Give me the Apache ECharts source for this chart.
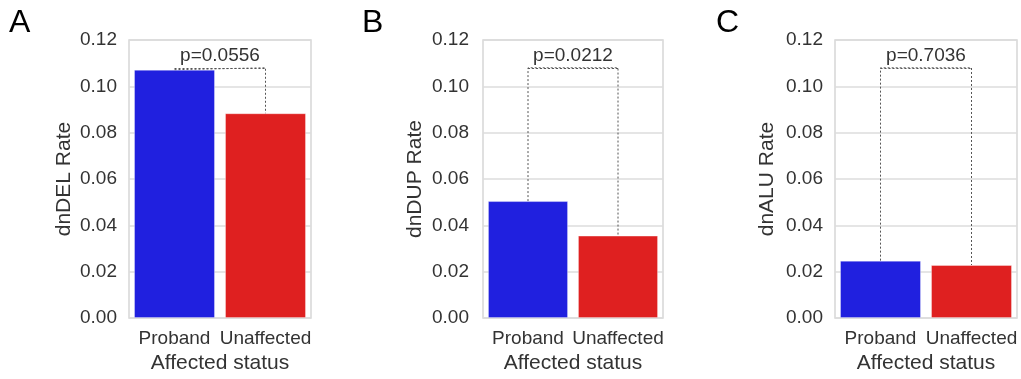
<!DOCTYPE html>
<html lang="en">
<head>
    <meta charset="UTF-8">
    <title>de novo rates</title>
    <script src="https://cdn.jsdelivr.net/npm/echarts@6/dist/echarts.min.js"></script>
    <style>
        body { margin: 0; background: #fff; }
    </style>
</head>
<body>
<div id="main" style="width: 1021px;height: 379px;"></div>
<script type="text/javascript">
    // data
    var categories = ['Proband', 'Unaffected'];
    var delRate = [0.1072, 0.0884];
    var dupRate = [0.0505, 0.0356];
    var aluRate = [0.0248, 0.0229];
    var pLabels = ['p=0.0556', 'p=0.0212', 'p=0.7036'];
    var yNames = ['dnDEL Rate', 'dnDUP Rate', 'dnALU Rate'];
    var panelLetters = ['A', 'B', 'C'];
    var bracketTop = 0.108;

    var barColors = ['#2020df', '#df2020'];
    var font = "'Liberation Sans', Arial, sans-serif";

    var myChart = echarts.init(document.getElementById('main'));

    // panel boxes (pixels)
    var boxes = [
        {left: 129, width: 182, nameGap: 54, labelMargin: 12},
        {left: 483, width: 180, nameGap: 57, labelMargin: 14},
        {left: 835, width: 182, nameGap: 57, labelMargin: 12}
    ];
    var letterX = [9, 362, 716];
    var rates = [delRate, dupRate, aluRate];
    var dotted = {color: '#555', width: 1, type: [2, 2]};

    var grids = [], xAxes = [], yAxes = [], series = [], graphics = [];
    for (var i = 0; i < 3; i++) {
        grids.push({
            left: boxes[i].left, width: boxes[i].width, top: 40, height: 281,
            show: true, borderColor: '#d6d6d6', borderWidth: 1.5, backgroundColor: '#fff'
        });
        xAxes.push({
            gridIndex: i,
            type: 'category',
            data: categories,
            name: 'Affected status',
            nameLocation: 'middle',
            nameGap: 29,
            nameTextStyle: {fontSize: 21, color: '#333', fontFamily: font},
            axisLine: {show: false},
            axisTick: {show: false},
            axisLabel: {margin: 11, fontSize: 19, color: '#333', fontFamily: font, interval: 0}
        });
        yAxes.push({
            gridIndex: i,
            type: 'value',
            min: 0,
            max: 0.12,
            interval: 0.02,
            name: yNames[i],
            nameLocation: 'middle',
            nameGap: boxes[i].nameGap,
            nameTextStyle: {fontSize: 21, color: '#333', fontFamily: font},
            axisLine: {show: false},
            axisTick: {show: false},
            splitLine: {lineStyle: {color: '#dcdcdc', width: 1.5}},
            axisLabel: {
                margin: boxes[i].labelMargin, fontSize: 19, color: '#333', fontFamily: font,
                formatter: function (v) { return v.toFixed(2); }
            }
        });
        series.push({
            type: 'bar',
            xAxisIndex: i,
            yAxisIndex: i,
            barCategoryGap: '11%',
            data: rates[i].map(function (v, k) {
                return {value: v, itemStyle: {color: barColors[k]}};
            }),
            itemStyle: {borderColor: 'rgba(255,255,255,0.35)', borderWidth: 1},
            z: 2
        });
        // significance bracket: legs as a line, top bar + p label as a markLine
        series.push({
            type: 'line',
            xAxisIndex: i,
            yAxisIndex: i,
            symbol: 'none',
            silent: true,
            data: [[0, rates[i][0]], [0, bracketTop], [1, bracketTop], [1, rates[i][1]]],
            lineStyle: dotted,
            markLine: {
                silent: true,
                symbol: 'none',
                lineStyle: dotted,
                label: {
                    show: true,
                    position: 'middle',
                    formatter: pLabels[i],
                    fontSize: 19,
                    color: '#333',
                    fontFamily: font,
                    distance: 3
                },
                data: [[{coord: [0, bracketTop]}, {coord: [1, bracketTop]}]]
            },
            z: 3
        });
        graphics.push({
            type: 'text',
            left: letterX[i],
            top: 7,
            style: {text: panelLetters[i], fontSize: 32, fill: '#000', fontFamily: font}
        });
    }

    myChart.setOption({
        animation: false,
        grid: grids,
        xAxis: xAxes,
        yAxis: yAxes,
        series: series,
        graphic: graphics
    });
</script>
</body>
</html>
